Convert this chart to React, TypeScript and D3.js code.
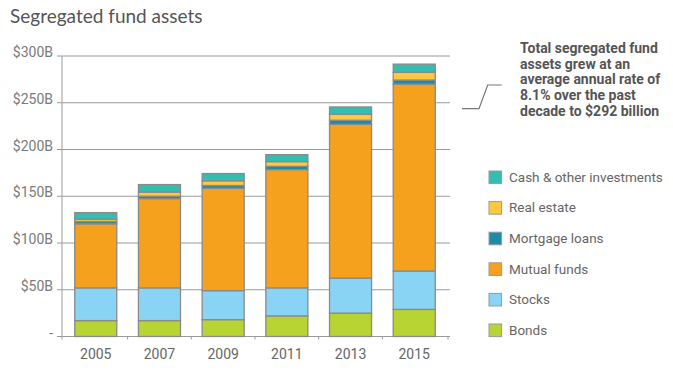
import React from 'react';
import * as d3 from 'd3';

const years = ['2005', '2007', '2009', '2011', '2013', '2015'];
const bonds = [17, 17, 18, 22, 25, 29];
const stocks = [35, 35, 31, 30, 37.5, 41];
const mutualFunds = [68.5, 95.5, 109.5, 126.5, 164.5, 200];
const mortgageLoans = [2.5, 2.5, 3, 3.5, 4.3, 4.3];
const realEstate = [2.5, 4.5, 5, 5, 6.4, 8.2];
const cashOther = [7, 8, 7.8, 7.5, 7.8, 8.8];
const yTicks = [0, 50, 100, 150, 200, 250, 300];
const yTickLabels = ['-', '$50B', '$100B', '$150B', '$200B', '$250B', '$300B'];

const seriesNames = ['Bonds', 'Stocks', 'Mutual funds', 'Mortgage loans', 'Real estate', 'Cash & other investments'];
const seriesValues = [bonds, stocks, mutualFunds, mortgageLoans, realEstate, cashOther];
const seriesColors = ['#B7D433', '#89D4F4', '#F5A11E', '#1B8BA7', '#FEC83F', '#34BDB1'];

const calloutLines = [
  'Total segregated fund',
  'assets grew at an',
  'average annual rate of',
  '8.1% over the past',
  'decade to $292 billion',
];

export default function App() {
  const width = 673;
  const height = 375;
  const x = d3.scaleBand<string>().domain(years).range([62, 448]).paddingInner(0.34).paddingOuter(0.2);
  const y = d3.scaleLinear().domain([0, 300]).range([336.5, 56]);

  const table = years.map((yr, i) => {
    const row: any = { year: yr };
    seriesNames.forEach((n, s) => (row[n] = seriesValues[s][i]));
    return row;
  });
  const stacked = d3.stack<any>().keys(seriesNames)(table);

  const font = 'Roboto, sans-serif';
  const step = x.step();
  const bw = x.bandwidth();
  const xTickPositions = [62, ...years.slice(0, -1).map((yr) => (x(yr)! + bw + (step - bw) / 2)), 448];

  const legendOrder = [...seriesNames].reverse();
  const legendColors = [...seriesColors].reverse();

  return (
    <svg width={width} height={height} style={{ display: 'block', position: 'absolute', left: 0, top: 0 }}>
      <rect width={width} height={height} fill="#fff" />
      <text x={10} y={23} fontFamily="Lato, sans-serif" fontSize={19} fill="#555">
        Segregated fund assets
      </text>

      {yTicks.map((t, i) => (
        <g key={t}>
          <line x1={57} x2={t === 0 ? 62 : 450} y1={y(t)} y2={y(t)} stroke="#9a9a9a" strokeWidth={1} />
          <text x={53} y={y(t) + 1} textAnchor="end" fontFamily={font} fontSize={14} fill="#7a7a7a">
            {yTickLabels[i]}
          </text>
        </g>
      ))}
      <line x1={62} x2={62} y1={56} y2={y(0)} stroke="#9a9a9a" strokeWidth={1} />
      <line x1={62} x2={450} y1={y(0)} y2={y(0)} stroke="#9a9a9a" strokeWidth={1} />
      {xTickPositions.map((p, i) => (
        <line key={i} x1={p} x2={p} y1={y(0)} y2={y(0) + 3} stroke="#9a9a9a" strokeWidth={1} />
      ))}

      {stacked.map((layer, s) => (
        <g key={layer.key} fill={seriesColors[s]}>
          {layer.map((d, i) => (
            <rect
              key={i}
              x={x(years[i])!}
              y={y(d[1])}
              width={bw}
              height={y(d[0]) - y(d[1])}
              stroke="#8a8a8a"
              strokeWidth={1.3}
            />
          ))}
        </g>
      ))}

      {years.map((yr) => (
        <text key={yr} x={x(yr)! + bw / 2} y={359} textAnchor="middle" fontFamily={font} fontSize={14} fill="#666">
          {yr}
        </text>
      ))}

      <polyline points="462,108.7 479,108.7 487.7,85 501.7,85" fill="none" stroke="#777" strokeWidth={1.2} />
      {calloutLines.map((l, i) => (
        <text key={i} x={520} y={53 + i * 15.7} fontFamily={font} fontWeight="bold" fontSize={14} fill="#555">
          {l}
        </text>
      ))}

      {legendOrder.map((n, i) => {
        const cy = 177.3 + i * 30.6;
        return (
          <g key={n}>
            <rect x={489} y={cy - 6.3} width={12.6} height={12.6} fill={legendColors[i]} stroke="#999" strokeWidth={1} />
            <text x={509} y={cy + 4.5} fontFamily={font} fontSize={13.5} fill="#666">
              {n}
            </text>
          </g>
        );
      })}
    </svg>
  );
}
